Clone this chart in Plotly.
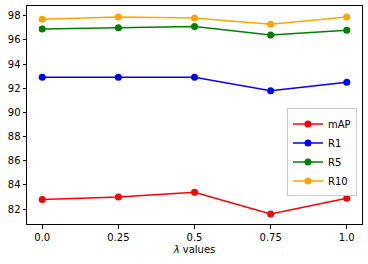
import plotly.graph_objects as go

x_vals = [0.0, 0.25, 0.5, 0.75, 1.0]
mAP = [82.8, 83.0, 83.4, 81.6, 82.9]
R1 = [92.9, 92.9, 92.9, 91.8, 92.5]
R5 = [96.9, 97.0, 97.1, 96.4, 96.8]
R10 = [97.7, 97.9, 97.8, 97.3, 97.9]
x_ticks = [0.0, 0.25, 0.5, 0.75, 1.0]
x_tick_labels = ["0.0", "0.25", "0.5", "0.75", "1.0"]
y_ticks = [82, 84, 86, 88, 90, 92, 94, 96, 98]

series = [("mAP", mAP, "red"), ("R1", R1, "blue"), ("R5", R5, "green"), ("R10", R10, "orange")]

fig = go.Figure()
for name, vals, col in series:
    fig.add_trace(go.Scatter(x=x_vals, y=vals, name=name, mode="lines+markers",
                             line=dict(color=col, width=1.5),
                             marker=dict(color=col, size=7)))

fig.update_layout(
    width=368, height=264,
    margin=dict(l=27, r=6, t=6, b=40, autoexpand=False),
    paper_bgcolor="white", plot_bgcolor="white",
    font=dict(family="DejaVu Sans", size=10, color="black"),
    showlegend=True,
    legend=dict(x=0.985, y=0.53, xanchor="right", yanchor="top",
                bgcolor="rgba(255,255,255,0.8)", bordercolor="#cccccc", borderwidth=1,
                font=dict(size=10), tracegroupgap=0, itemwidth=30),
    xaxis=dict(range=[-0.05, 1.05], tickvals=x_ticks, ticktext=x_tick_labels, automargin=False,
               showgrid=False, zeroline=False, showline=True, linecolor="black", linewidth=1,
               mirror=True, ticks="outside", ticklen=3.5, tickcolor="black",
               title=dict(text="<i>λ</i> values", standoff=4, font=dict(size=10))),
    yaxis=dict(range=[80.77, 98.8], tickvals=y_ticks, automargin=False,
               showgrid=False, zeroline=False, showline=True, linecolor="black", linewidth=1,
               mirror=True, ticks="outside", ticklen=3.5, tickcolor="black"),
)

fig.write_html("out.html", config={"displayModeBar": False},
               post_script="document.body.style.margin='0';document.body.style.padding='0';")
